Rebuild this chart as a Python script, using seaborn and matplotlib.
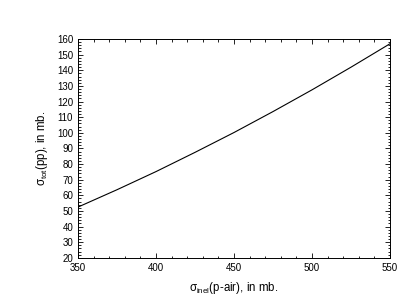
import matplotlib
matplotlib.use("Agg")
import matplotlib.pyplot as plt
import numpy as np
import pandas as pd
import seaborn as sns
from matplotlib.ticker import MultipleLocator

# values
sigma_inel = [350, 375, 400, 425, 450, 475, 500, 525, 550]
sigma_tot = [52.5, 63.6, 75.2, 87.5, 100.2, 113.6, 127.5, 142.0, 157.0]

df = pd.DataFrame({"inel": sigma_inel, "tot": sigma_tot})

sns.set_style("ticks")
plt.rcParams["font.family"] = ["Liberation Sans", "DejaVu Sans"]
plt.rcParams["mathtext.fontset"] = "custom"
plt.rcParams["mathtext.rm"] = "Liberation Sans"
plt.rcParams["mathtext.it"] = "Liberation Sans"
plt.rcParams["text.color"] = "black"
plt.rcParams["axes.labelcolor"] = "black"

fig = plt.figure(figsize=(4.15, 3.07), dpi=100)
ax = fig.add_axes([0.188, 0.160, 0.752, 0.713])

sns.lineplot(data=df, x="inel", y="tot", color="black", linewidth=0.8, ax=ax)

ax.set_xlim(350, 550)
ax.set_ylim(20, 160)
ax.xaxis.set_major_locator(MultipleLocator(50))
ax.xaxis.set_minor_locator(MultipleLocator(10))
ax.yaxis.set_major_locator(MultipleLocator(10))
ax.yaxis.set_minor_locator(MultipleLocator(2))
ax.tick_params(which="both", direction="in", top=True, right=True,
               labelsize=7, width=0.6, colors="black")
ax.tick_params(which="major", length=3.5)
ax.tick_params(which="minor", length=1.8)
for s in ax.spines.values():
    s.set_linewidth(0.7)
    s.set_color("black")

ax.set_xlabel(r"$\sigma_{\mathrm{inel}}$(p-air), in mb.", fontsize=8.3, labelpad=5)
ax.set_ylabel(r"$\sigma_{\mathrm{tot}}$(pp), in mb.", fontsize=8.3, labelpad=5)

fig.savefig("out.png", dpi=100)
